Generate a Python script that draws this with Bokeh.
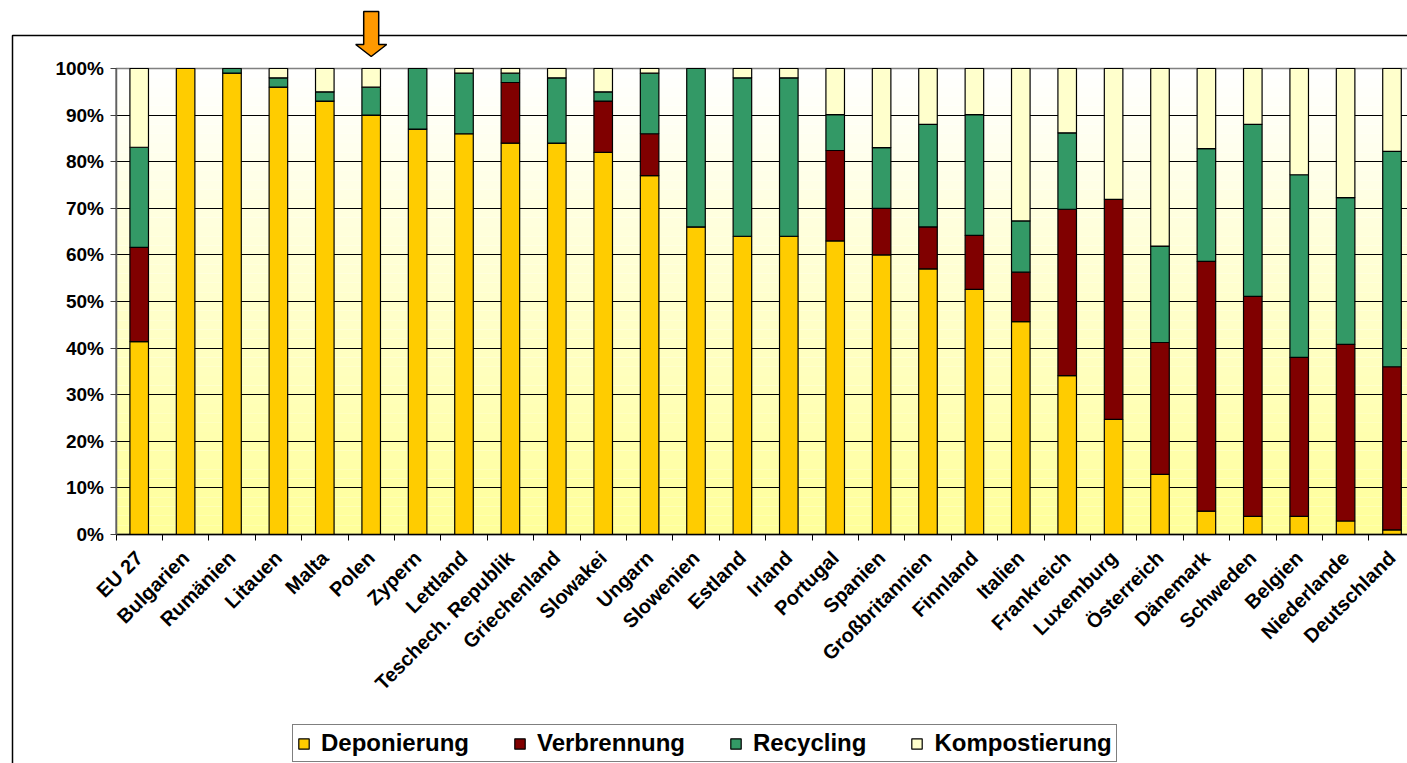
import math
from bokeh.plotting import figure
from bokeh.models import (ColumnDataSource, Range1d, LinearAxis, FixedTicker,
                          PrintfTickFormatter, Grid)
from bokeh.embed import file_html
from bokeh.resources import INLINE

# ---------------- data ----------------
categories = ["EU 27", "Bulgarien", "Rumänien", "Litauen", "Malta", "Polen", "Zypern",
              "Lettland", "Teschech. Republik", "Griechenland", "Slowakei", "Ungarn",
              "Slowenien", "Estland", "Irland", "Portugal", "Spanien", "Großbritannien",
              "Finnland", "Italien", "Frankreich", "Luxemburg", "Österreich", "Dänemark",
              "Schweden", "Belgien", "Niederlande", "Deutschland"]
deponierung = [41.4, 100, 99, 96, 93, 90, 87, 86, 84, 84, 82, 77, 66, 64, 64, 63, 60, 57,
               52.6, 45.7, 34.1, 24.7, 12.9, 5, 3.9, 3.9, 2.9, 1]
verbrennung = [20.2, 0, 0, 0, 0, 0, 0, 0, 13, 0, 11, 9, 0, 0, 0, 19.4, 10, 9,
               11.6, 10.6, 35.7, 47.2, 28.3, 53.6, 47.2, 34.1, 37.9, 35]
recycling = [21.5, 0, 1, 2, 2, 6, 13, 13, 2, 14, 2, 13, 34, 34, 34, 7.7, 13, 22,
             25.9, 11, 16.4, 0, 20.7, 24.2, 36.9, 39.2, 31.5, 46.2]
kompostierung = [16.9, 0, 0, 2, 5, 4, 0, 1, 1, 2, 5, 1, 0, 2, 2, 9.9, 17, 12,
                 9.9, 32.7, 13.8, 28.1, 38.1, 17.2, 12, 22.8, 27.7, 17.8]
series_names = ["Deponierung", "Verbrennung", "Recycling", "Kompostierung"]
series_colors = ["#FFCC00", "#800000", "#339966", "#FFFFCC"]
y_ticks = [0, 10, 20, 30, 40, 50, 60, 70, 80, 90, 100]
highlight = "Polen"

# ---------------- layout constants (pixels) ----------------
W, H = 1407, 763
PX_X = 46.4          # pixels per category
X0_PX = 138.7        # pixel x of first category centre
PX_Y = 4.66          # pixels per percent
Y0_PX = 534          # pixel y (from top) of 0 %

x_start = -X0_PX / PX_X
x_end = x_start + W / PX_X
y_start = -(H - Y0_PX) / PX_Y
y_end = y_start + H / PX_Y


def xd(px):
    return x_start + px / PX_X


def yd(py):
    return y_end - py / PX_Y


src = ColumnDataSource(dict(
    x=list(range(len(categories))),
    Deponierung=deponierung,
    Verbrennung=verbrennung,
    Recycling=recycling,
    Kompostierung=kompostierung,
))

p = figure(width=W, height=H, x_range=Range1d(x_start, x_end), y_range=Range1d(y_start, y_end),
           x_axis_type=None, y_axis_type=None, toolbar_location=None, output_backend="svg",
           min_border=0, title=None, outline_line_color=None,
           background_fill_color="white", border_fill_color="white")

# plot-area gradient background (white top -> light yellow bottom)
n_bands = 50
bottoms, tops, cols = [], [], []
for i in range(n_bands):
    b = 100.0 * i / n_bands
    t = 100.0 * (i + 1) / n_bands
    f = (b + t) / 200.0
    blue = int(round(0x99 + (0xFF - 0x99) * f))
    bottoms.append(b)
    tops.append(t)
    cols.append("#FFFF%02X" % blue)
p.quad(left=-0.5, right=x_end + 1, bottom=bottoms, top=tops, fill_color=cols,
       line_color=None, level="image")

# horizontal gridlines
grid_kw = dict(dimension=1, ticker=FixedTicker(ticks=y_ticks), grid_line_color="black",
               grid_line_width=1)
g = Grid(**grid_kw)
if "cross_bounds" in g.properties():
    g.cross_bounds = (-0.5, x_end + 1)
p.add_layout(g)
if "cross_bounds" not in g.properties():
    p.quad(left=x_start - 1, right=-0.5, bottom=-1, top=101, fill_color="white",
           line_color=None)

# plot-area border
p.quad(left=-0.5, right=x_end + 1, bottom=0, top=100, fill_color=None,
       line_color="#808080", line_width=1.5)

# stacked bars
p.vbar_stack(series_names, x="x", width=0.4, source=src, fill_color=series_colors,
             line_color="black", line_width=1.2, legend_label=series_names)

# outer chart border (left and top)
p.line([xd(12), xd(12), x_end + 1], [y_start - 1, yd(35), yd(35)],
       line_color="black", line_width=1.5)

# orange arrow above highlighted country
cx = categories.index(highlight)
shaft, head = 7.5 / PX_X, 15.5 / PX_X
y_top, y_head, y_tip = yd(11), yd(44), yd(56)
p.patch([cx - shaft, cx + shaft, cx + shaft, cx + head, cx, cx - head, cx - shaft],
        [y_top, y_top, y_head, y_head, y_tip, y_head, y_head],
        fill_color="#FF9900", line_color="black", line_width=1.5)

# axes
xaxis = LinearAxis(
    ticker=FixedTicker(ticks=list(range(len(categories))),
                       minor_ticks=[i - 0.5 for i in range(len(categories) + 1)]),
    fixed_location=0, bounds=(-0.5, x_end + 1),
    major_label_overrides={i: c for i, c in enumerate(categories)},
    major_tick_out=0, major_tick_in=0, minor_tick_out=6, minor_tick_in=0,
    minor_tick_line_color="black", axis_line_color="black", axis_line_width=1.5,
    major_label_orientation=math.pi / 4, major_label_standoff=14,
    major_label_text_font="Liberation Sans", major_label_text_font_style="bold",
    major_label_text_font_size="20px", major_label_text_color="black")
p.add_layout(xaxis, "below")

yaxis = LinearAxis(
    ticker=FixedTicker(ticks=y_ticks), formatter=PrintfTickFormatter(format="%d%%"),
    fixed_location=-0.5, bounds=(0, 100),
    major_tick_out=6, major_tick_in=0, minor_tick_out=0, minor_tick_in=0,
    major_tick_line_color="#404040", axis_line_color="#606060", axis_line_width=1.5,
    major_label_standoff=6,
    major_label_text_font="Liberation Sans", major_label_text_font_style="bold",
    major_label_text_font_size="19px", major_label_text_color="black")
p.add_layout(yaxis, "left")

# legend
lg = p.legend[0]
lg.orientation = "horizontal"
lg.location = (292, 1)
lg.glyph_width = 13
lg.glyph_height = 13
lg.label_standoff = 11
lg.spacing = 44
lg.padding = 4
lg.margin = 0
lg.label_text_font = "Liberation Sans"
lg.label_text_font_style = "bold"
lg.label_text_font_size = "24px"
lg.label_text_color = "black"
lg.border_line_color = "black"
lg.border_line_width = 1
lg.background_fill_color = "white"
lg.background_fill_alpha = 1

open("out.html", "w").write(file_html(p, INLINE))
